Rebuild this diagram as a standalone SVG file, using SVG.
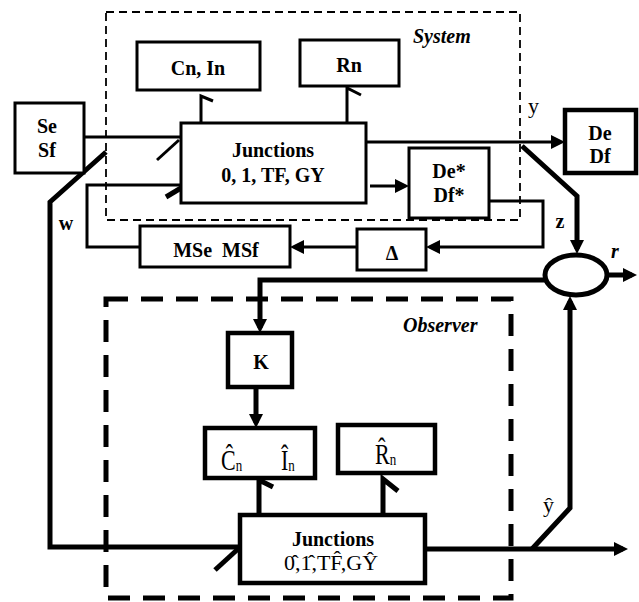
<svg xmlns="http://www.w3.org/2000/svg" width="639" height="602" viewBox="0 0 639 602">
<style>
.b{fill:#fff;stroke:#000;stroke-width:3}
.bo{fill:#fff;stroke:#000;stroke-width:4.5}
.t{font-family:"Liberation Serif","Times New Roman",serif;font-weight:bold;font-size:20px;text-anchor:middle;fill:#000}
.ti{font-family:"Liberation Serif","Times New Roman",serif;font-weight:bold;font-style:italic;font-size:20px;fill:#000}
.tr{font-family:"Liberation Serif","Times New Roman",serif;font-size:22px;fill:#000}
.c{fill:none;stroke:#000;stroke-width:3}
.ct{fill:none;stroke:#000;stroke-width:5}
</style>
<defs>
<marker id="a" viewBox="0 0 14 14" refX="9" refY="7" markerWidth="14" markerHeight="14" markerUnits="userSpaceOnUse" orient="auto"><path d="M0,0 L14,7 L0,14 z" fill="#000"/></marker>
</defs>
<rect x="106" y="12" width="414" height="208" fill="none" stroke="#000" stroke-width="1.8" stroke-dasharray="8,5"/>
<rect x="106" y="299" width="405" height="299" fill="none" stroke="#000" stroke-width="5" stroke-dasharray="22,13"/>
<text class="ti" x="413" y="43">System</text>
<text class="ti" x="403" y="332">Observer</text>
<g id="connectors">
<line class="c" x1="84" y1="137" x2="181" y2="137"/>
<line class="c" x1="179" y1="140" x2="157" y2="160"/>
<polyline class="c" points="201,123 201,96 213,101"/>
<polyline class="c" points="347,123 347,88 361,95"/>
<line class="c" x1="366" y1="142" x2="560" y2="142" stroke-width="4" marker-end="url(#a)"/>
<line class="c" x1="370" y1="186" x2="404" y2="186" stroke-width="4" marker-end="url(#a)"/>
<polyline class="c" points="489,201 543,201 543,247 431,247" marker-end="url(#a)"/>
<line class="c" x1="357" y1="247" x2="295" y2="247" marker-end="url(#a)"/>
<polyline class="c" points="140,247 87,247 87,185 181,185"/>
<line class="ct" x1="181" y1="188" x2="166" y2="197"/>
<polyline class="ct" points="106,152 50,202 50,547 240,547"/>
<line class="ct" x1="238" y1="549" x2="215" y2="570"/>
<polyline class="ct" points="522,146 577,196 577,249" marker-end="url(#a)"/>
<polyline class="ct" points="545,280 260,280 260,328" marker-end="url(#a)"/>
<line class="ct" x1="256" y1="387" x2="256" y2="423" marker-end="url(#a)"/>
<polyline class="ct" points="259,515 259,480 273,487"/>
<polyline class="ct" points="383,515 383,479 398,491"/>
<line class="ct" x1="425" y1="549" x2="623" y2="549" marker-end="url(#a)"/>
<polyline class="ct" points="532,549 570,508 570,301" marker-end="url(#a)"/>
<line class="ct" x1="607" y1="275" x2="632" y2="275" marker-end="url(#a)"/>
</g>
<g id="cnin"><rect class="b" x="137" y="42" width="123" height="48"/><text class="t" x="198" y="75">Cn, In</text></g>
<g id="rn"><rect class="b" x="300" y="40" width="99" height="46"/><text class="t" x="349" y="72">Rn</text></g>
<g id="sesf"><rect class="b" x="15" y="103" width="69" height="70"/><text class="t" x="47" y="133">Se</text><text class="t" x="47" y="157">Sf</text></g>
<g id="junctions"><rect class="b" x="181" y="123" width="185" height="80"/><text class="t" x="273" y="157">Junctions</text><text class="t" x="273" y="182">0, 1, TF, GY</text></g>
<g id="dedf"><rect class="bo" x="565" y="110" width="71" height="63"/><text class="t" x="600" y="140">De</text><text class="t" x="600" y="163">Df</text></g>
<g id="destar"><rect class="b" x="409" y="148" width="80" height="70"/><text class="t" x="449" y="178">De*</text><text class="t" x="449" y="202">Df*</text></g>
<g id="msemsf"><rect class="b" x="140" y="226" width="150" height="41"/><text class="t" x="216" y="257">MSe&#160; MSf</text></g>
<g id="delta"><rect class="b" x="357" y="229" width="69" height="41"/><text class="t" x="392" y="260" font-size="18">Δ</text></g>
<g id="sum"><ellipse cx="576" cy="275" rx="31" ry="20" fill="#fff" stroke="#000" stroke-width="5"/></g>
<g id="k"><rect class="bo" x="228" y="333" width="64" height="54"/><text class="t" x="261" y="369">K</text></g>
<g id="cnhat"><rect class="bo" x="205" y="428" width="110" height="50"/><text class="tr" transform="translate(221,470) scale(1,1.3)" font-size="22">Ĉ<tspan font-size="13" dy="1">n</tspan></text><text class="tr" transform="translate(281,470) scale(1,1.3)" font-size="22">Î<tspan font-size="13" dy="1">n</tspan></text></g>
<g id="rnhat"><rect class="bo" x="338" y="425" width="97" height="48"/><text class="tr" transform="translate(375,464) scale(1,1.3)" font-size="22">R̂<tspan font-size="13" dy="1">n</tspan></text></g>
<g id="obsjunctions"><rect class="bo" x="240" y="515" width="185" height="68"/><text class="t" x="333" y="546">Junctions</text><text class="tr" x="331" y="570" text-anchor="middle">0̂,1̂,TF̂,GŶ</text></g>
<text class="t" x="66" y="230">w</text>
<text class="t" x="560" y="228">z</text>
<text class="ti" x="611" y="258">r</text>
<text class="tr" x="528" y="113" font-size="23">y</text>
<text class="tr" x="543" y="512">ŷ</text>
</svg>
